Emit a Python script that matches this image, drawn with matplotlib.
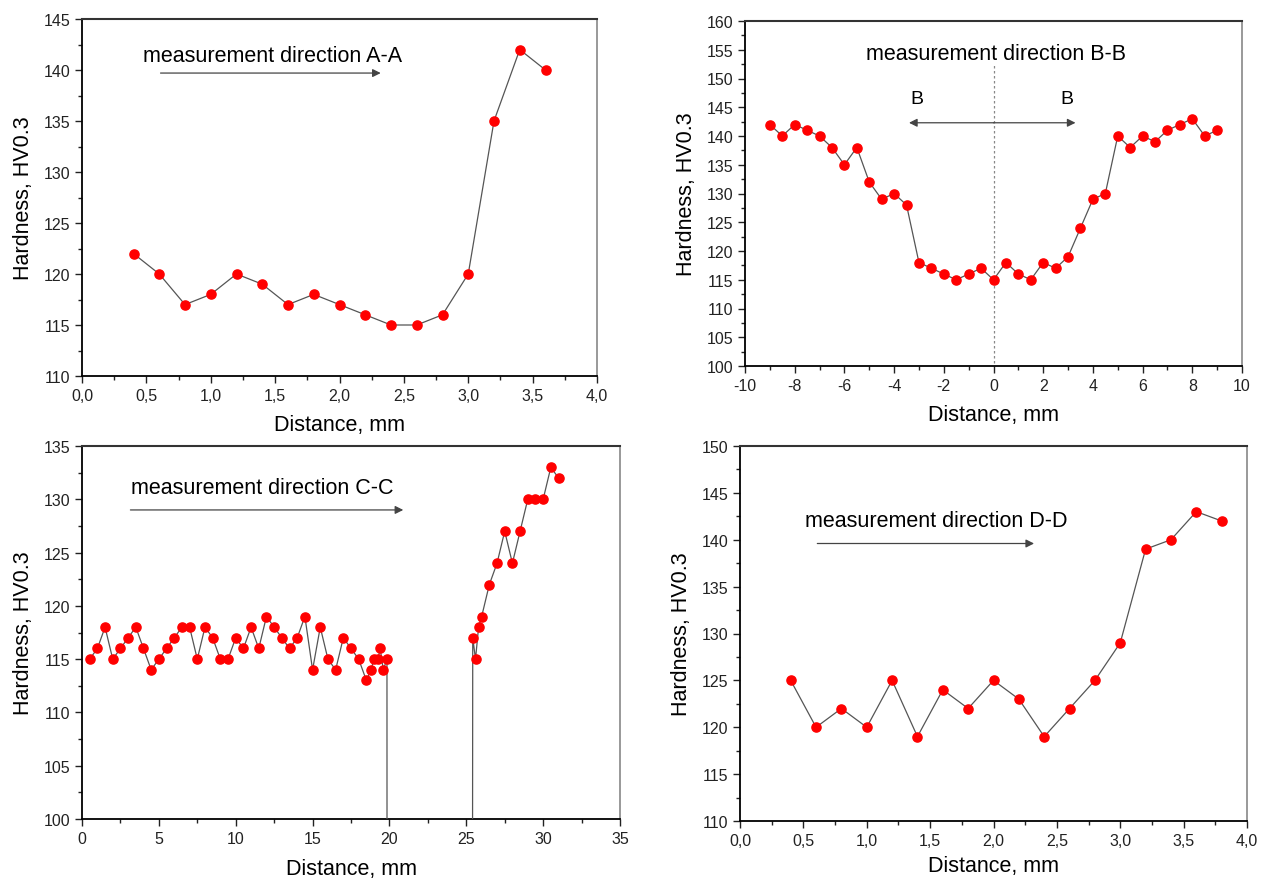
import matplotlib
matplotlib.use("Agg")
import matplotlib.pyplot as plt
from matplotlib.ticker import MultipleLocator, FuncFormatter

plt.rcParams['font.family'] = ['Liberation Sans', 'DejaVu Sans']
plt.rcParams['axes.unicode_minus'] = False

# Section A-A
dist_a = [0.4, 0.6, 0.8, 1.0, 1.2, 1.4, 1.6, 1.8, 2.0, 2.2, 2.4, 2.6, 2.8, 3.0, 3.2, 3.4, 3.6]
hv_a = [122, 120, 117, 118, 120, 119, 117, 118, 117, 116, 115, 115, 116, 120, 135, 142, 140]

# Section B-B (centre of the weld at 0)
dist_b = [-9.0, -8.5, -8.0, -7.5, -7.0, -6.5, -6.0, -5.5, -5.0, -4.5, -4.0, -3.5, -3.0,
          -2.5, -2.0, -1.5, -1.0, -0.5, 0.0, 0.5, 1.0, 1.5, 2.0, 2.5, 3.0, 3.5, 4.0,
          4.5, 5.0, 5.5, 6.0, 6.5, 7.0, 7.5, 8.0, 8.5, 9.0]
hv_b = [142, 140, 142, 141, 140, 138, 135, 138, 132, 129, 130, 128, 118,
        117, 116, 115, 116, 117, 115, 118, 116, 115, 118, 117, 119, 124, 129,
        130, 140, 138, 140, 139, 141, 142, 143, 140, 141]

# Section C-C (zero readings mark the unmeasured zone between ~20 and ~25 mm)
dist_c = [0.5, 1.0, 1.5, 2.0, 2.5, 3.0, 3.5, 4.0, 4.5, 5.0, 5.5, 6.0, 6.5, 7.0, 7.5,
          8.0, 8.5, 9.0, 9.5, 10.0, 10.5, 11.0, 11.5, 12.0, 12.5, 13.0, 13.5, 14.0,
          14.5, 15.0, 15.5, 16.0, 16.5, 17.0, 17.5, 18.0, 18.5, 18.8, 19.0, 19.25,
          19.4, 19.6, 19.84, 19.86, 25.34, 25.42, 25.6, 25.8, 26.0, 26.5, 27.0,
          27.5, 28.0, 28.5, 29.0, 29.5, 30.0, 30.5, 31.0]
hv_c = [115, 116, 118, 115, 116, 117, 118, 116, 114, 115, 116, 117, 118, 118, 115,
        118, 117, 115, 115, 117, 116, 118, 116, 119, 118, 117, 116, 117,
        119, 114, 118, 115, 114, 117, 116, 115, 113, 114, 115, 115,
        116, 114, 115, 0, 0, 117, 115, 118, 119, 122, 124,
        127, 124, 127, 130, 130, 130, 133, 132]

# Section D-D
dist_d = [0.4, 0.6, 0.8, 1.0, 1.2, 1.4, 1.6, 1.8, 2.0, 2.2, 2.4, 2.6, 2.8, 3.0, 3.2, 3.4, 3.6, 3.8]
hv_d = [125, 120, 122, 120, 125, 119, 124, 122, 125, 123, 119, 122, 125, 129, 139, 140, 143, 142]

W, H = 1263, 879
fig = plt.figure(figsize=(W / 100, H / 100), dpi=100)


def px_axes(left, top, right, bottom):
    return fig.add_axes([left / W, 1 - bottom / H, (right - left) / W, (bottom - top) / H])


def comma(x, pos):
    return f"{x:.1f}".replace('.', ',')


def style(ax, xlim, ylim, xmaj, xmin, ymaj, ymin, decimal=False, xpad=6):
    ax.set_xlim(*xlim)
    ax.set_ylim(*ylim)
    ax.xaxis.set_major_locator(MultipleLocator(xmaj))
    ax.xaxis.set_minor_locator(MultipleLocator(xmin))
    ax.yaxis.set_major_locator(MultipleLocator(ymaj))
    ax.yaxis.set_minor_locator(MultipleLocator(ymin))
    if decimal:
        ax.xaxis.set_major_formatter(FuncFormatter(comma))
    ax.tick_params(which='both', direction='out', top=False, right=False,
                   labelsize=11.5, colors='#222222', width=1.0)
    ax.tick_params(which='major', length=5)
    ax.tick_params(which='minor', length=3)
    ax.spines['left'].set_linewidth(1.3)
    ax.spines['bottom'].set_linewidth(1.3)
    ax.spines['top'].set_linewidth(1.5)
    ax.spines['top'].set_color('#333333')
    ax.spines['right'].set_linewidth(1.2)
    ax.spines['right'].set_color('#888888')
    ax.set_xlabel('Distance, mm', fontsize=15.5, labelpad=xpad)
    ax.set_ylabel('Hardness, HV0.3', fontsize=15.5, labelpad=7)


def profile(ax, x, y):
    ax.plot(x, y, color='#555555', lw=0.9, marker='o', markersize=6.6,
            markerfacecolor='#ff0000', markeredgecolor='#ff0000', zorder=3)


def direction(ax, label, tx, ty, x0, x1, ay):
    ax.text(tx, ty, label, fontsize=15.5, ha='left', va='center')
    ax.annotate('', xy=(x1, ay), xytext=(x0, ay),
                arrowprops=dict(arrowstyle='-|>', color='#444444', lw=0.9,
                                mutation_scale=12, shrinkA=0, shrinkB=0))


# A-A
ax_a = px_axes(82, 20, 597, 377)
profile(ax_a, dist_a, hv_a)
style(ax_a, (0, 4), (110, 145), 0.5, 0.25, 5, 2.5, decimal=True, xpad=8)
direction(ax_a, 'measurement direction A-A', 0.47, 141.4, 0.61, 2.32, 139.7)

# B-B
ax_b = px_axes(745, 22, 1242, 367)
ax_b.plot([0, 0], [100.6, 152.4], color='#888888', lw=0.9, ls=(0, (2, 2)), zorder=1)
profile(ax_b, dist_b, hv_b)
style(ax_b, (-10, 10), (100, 160), 2, 1, 5, 2.5, xpad=8)
ax_b.text(0.1, 154.3, 'measurement direction B-B', fontsize=15.5, ha='center', va='center')
for tip in (-3.4, 3.3):
    ax_b.annotate('', xy=(tip, 142.3), xytext=(0, 142.3),
                  arrowprops=dict(arrowstyle='-|>', color='#444444', lw=0.9,
                                  mutation_scale=12, shrinkA=0, shrinkB=0))
ax_b.text(-3.1, 146.5, 'B', fontsize=14, ha='center', va='center')
ax_b.text(2.95, 146.5, 'B', fontsize=14, ha='center', va='center')

# C-C
ax_c = px_axes(82, 447, 620, 820)
profile(ax_c, dist_c, hv_c)
style(ax_c, (0, 35), (100, 135), 5, 2.5, 5, 2.5, xpad=9)
direction(ax_c, 'measurement direction C-C', 3.2, 131.1, 3.15, 20.9, 129.0)

# D-D
ax_d = px_axes(740, 447, 1247, 822)
profile(ax_d, dist_d, hv_d)
style(ax_d, (0, 4), (110, 150), 0.5, 0.25, 5, 2.5, decimal=True, xpad=5)
direction(ax_d, 'measurement direction D-D', 0.51, 142.1, 0.61, 2.32, 139.6)

fig.savefig('out.png', dpi=100)
